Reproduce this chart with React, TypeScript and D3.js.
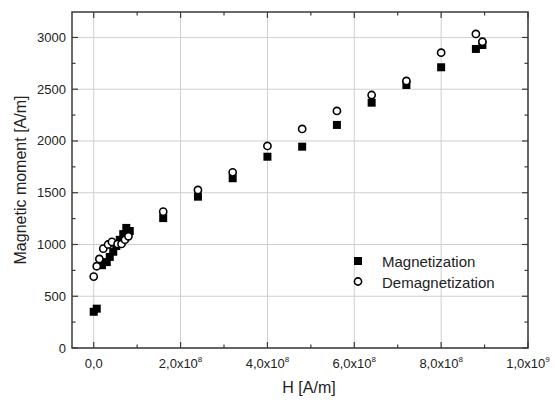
import React from "react";
import * as d3 from "d3";

const magH = [0, 0.07, 0.19, 0.30, 0.37, 0.45, 0.52, 0.60, 0.68, 0.75, 0.83, 1.6, 2.4, 3.2, 4.0, 4.8, 5.6, 6.4, 7.2, 8.0, 8.8, 8.95];
const magM = [350, 380, 800, 830, 880, 930, 985, 1045, 1100, 1160, 1130, 1255, 1462, 1640, 1848, 1945, 2155, 2370, 2541, 2712, 2889, 2927];
const demH = [0, 0.07, 0.13, 0.22, 0.33, 0.42, 0.55, 0.64, 0.72, 0.80, 1.6, 2.4, 3.2, 4.0, 4.8, 5.6, 6.4, 7.2, 8.0, 8.8, 8.95];
const demM = [690, 790, 860, 960, 1000, 1025, 1005, 1005, 1046, 1079, 1317, 1527, 1697, 1952, 2116, 2290, 2444, 2580, 2853, 3034, 2959];

const xTicks = [0, 2e8, 4e8, 6e8, 8e8, 1e9];
const xTickMant = ["0,0", "2,0", "4,0", "6,0", "8,0", "1,0"];
const xTickExp = ["", "8", "8", "8", "8", "9"];
const yTicks = [0, 500, 1000, 1500, 2000, 2500, 3000];
const seriesNames = ["Magnetization", "Demagnetization"];

export default function App() {
  const W = 555, H = 403;
  const L = 72, R = 528, T = 12, B = 348;
  const x = d3.scaleLinear().domain([-0.5e8, 1e9]).range([L, R]);
  const y = d3.scaleLinear().domain([0, 3246]).range([B, T]);
  const font = "'Liberation Sans', Arial, sans-serif";
  const xMinor = d3.range(0, 1e9 + 1, 1e8);
  const yMinor = d3.range(0, 3250, 250);
  const frame = "#3a3a3a";
  return (
    <svg width={W} height={H} style={{ position: "absolute", left: 0, top: 0, background: "#fff" }} fontFamily={font}>
      <rect x={0} y={0} width={W} height={H} fill="#fff" />
      {xTicks.map((t, i) => (
        <line key={"gx" + i} x1={x(t)} x2={x(t)} y1={T} y2={B} stroke="#cfcfcf" strokeWidth={1} />
      ))}
      {yTicks.map((t, i) => (
        <line key={"gy" + i} x1={L} x2={R} y1={y(t)} y2={y(t)} stroke="#cfcfcf" strokeWidth={1} />
      ))}
      {xMinor.map((t, i) => {
        const len = i % 2 === 0 ? 6 : 3.5;
        return (
          <g key={"tx" + i}>
            <line x1={x(t)} x2={x(t)} y1={B} y2={B - len} stroke={frame} strokeWidth={1.2} />
            <line x1={x(t)} x2={x(t)} y1={T} y2={T + len} stroke={frame} strokeWidth={1.2} />
          </g>
        );
      })}
      {yMinor.map((t, i) => {
        const len = i % 2 === 0 ? 6 : 3.5;
        return (
          <g key={"ty" + i}>
            <line x1={L} x2={L + len} y1={y(t)} y2={y(t)} stroke={frame} strokeWidth={1.2} />
            <line x1={R} x2={R - len} y1={y(t)} y2={y(t)} stroke={frame} strokeWidth={1.2} />
          </g>
        );
      })}
      <rect x={L} y={T} width={R - L} height={B - T} fill="none" stroke={frame} strokeWidth={1.5} />
      {yTicks.map((t, i) => (
        <text key={"ly" + i} x={L - 6} y={y(t) + 4.5} textAnchor="end" fontSize={13} fill="#222">{t}</text>
      ))}
      {xTicks.map((t, i) => (
        <text key={"lx" + i} x={x(t)} y={368} textAnchor="middle" fontSize={13} fill="#222">
          {xTickExp[i] ? xTickMant[i] + "x10" : xTickMant[i]}
          {xTickExp[i] ? <tspan fontSize={8} dy={-6}>{xTickExp[i]}</tspan> : null}
        </text>
      ))}
      <text x={309} y={393} textAnchor="middle" fontSize={16} fill="#222">H [A/m]</text>
      <text transform={`translate(26,${(T + B) / 2}) rotate(-90)`} textAnchor="middle" fontSize={16} fill="#222">Magnetic moment [A/m]</text>
      {magH.map((h, i) => (
        <rect key={"m" + i} x={x(h * 1e8) - 4} y={y(magM[i]) - 4} width={8} height={8} fill="#000" />
      ))}
      {demH.map((h, i) => (
        <circle key={"d" + i} cx={x(h * 1e8)} cy={y(demM[i])} r={3.6} fill="#fff" stroke="#000" strokeWidth={1.6} />
      ))}
      <rect x={354} y={257} width={8} height={8} fill="#000" />
      <text x={382} y={267} fontSize={15} fill="#222">{seriesNames[0]}</text>
      <circle cx={358} cy={281.5} r={3.6} fill="#fff" stroke="#000" strokeWidth={1.6} />
      <text x={382} y={288} fontSize={15} fill="#222">{seriesNames[1]}</text>
    </svg>
  );
}
